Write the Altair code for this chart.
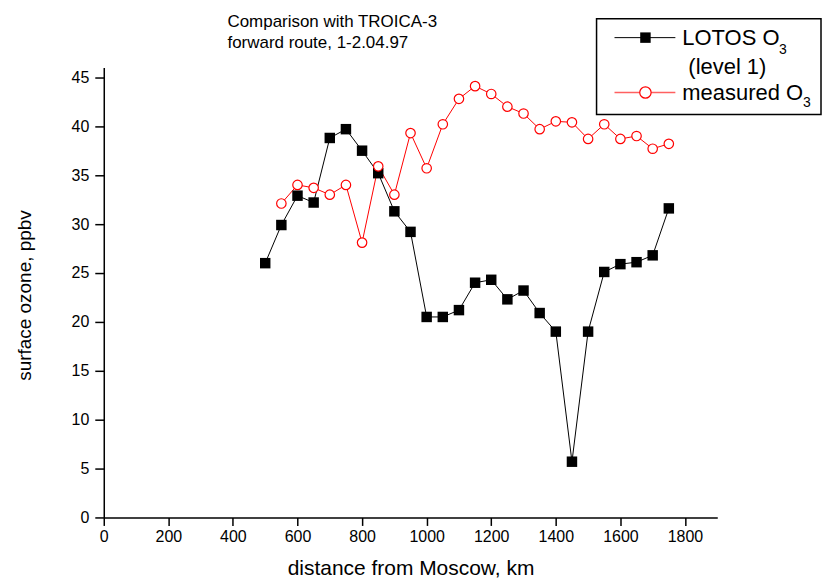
import altair as alt
import pandas as pd

# ---- data ----
lotos_km = [500, 550, 600, 650, 700, 750, 800, 850, 900, 950, 1000, 1050, 1100,
            1150, 1200, 1250, 1300, 1350, 1400, 1450, 1500, 1550, 1600, 1650, 1700, 1750]
lotos_o3 = [26.0, 29.9, 32.9, 32.2, 38.8, 39.7, 37.5, 35.2, 31.3, 29.2, 20.5, 20.5, 21.2,
            24.0, 24.3, 22.3, 23.2, 20.9, 19.0, 5.7, 19.0, 25.1, 25.9, 26.1, 26.8, 31.6]

meas_km = [550, 600, 650, 700, 750, 800, 850, 900, 950, 1000, 1050, 1100, 1150,
           1200, 1250, 1300, 1350, 1400, 1450, 1500, 1550, 1600, 1650, 1700, 1750]
meas_o3 = [32.1, 34.0, 33.7, 33.0, 34.0, 28.1, 35.9, 33.0, 39.3, 35.7, 40.2, 42.8, 44.1,
           43.3, 42.0, 41.3, 39.7, 40.5, 40.4, 38.7, 40.2, 38.7, 39.0, 37.7, 38.2]

x_ticks = list(range(0, 1901, 100))
y_ticks = [i * 2.5 for i in range(19)]

title_lines = ["Comparison with TROICA-3", "forward route, 1-2.04.97"]
x_title = "distance from Moscow, km"
y_title = "surface ozone, ppbv"

FONT = "Liberation Sans"

lotos = pd.DataFrame({"km": lotos_km, "o3": lotos_o3})
meas = pd.DataFrame({"km": meas_km, "o3": meas_o3})

x_axis = alt.Axis(
    values=x_ticks, format="d",
    labelExpr="datum.value % 200 === 0 ? datum.label : ''",
    tickSize={"condition": {"test": "datum.value % 200 === 0", "value": 8}, "value": 5},
    labelPadding=3, labelFontSize=16, labelFont=FONT, labelColor="black",
    labelFlush=False, labelOverlap=False,
    title=x_title, titleFont=FONT, titleFontSize=21, titleFontWeight="normal",
    titleColor="black", titleY=57, titleBaseline="alphabetic",
    grid=False, domainColor="black", domainWidth=1.5, tickColor="black", tickWidth=1.5,
)
y_axis = alt.Axis(
    values=y_ticks, format="d",
    labelExpr="datum.value % 5 === 0 ? datum.label : ''",
    tickSize={"condition": {"test": "datum.value % 5 === 0", "value": 9}, "value": 4},
    labelPadding=6, labelFontSize=16, labelFont=FONT, labelColor="black",
    labelFlush=False, labelOverlap=False,
    title=y_title, titleFont=FONT, titleFontSize=19, titleFontWeight="normal",
    titleColor="black", titleX=-79, titleY=228, titleBaseline="middle", titleAngle=270,
    grid=False, domainColor="black", domainWidth=1.5, tickColor="black", tickWidth=1.5,
)

xs = alt.Scale(domain=[0, 1900], nice=False, zero=False)
ys = alt.Scale(domain=[0, 46], nice=False)

X = alt.X("km:Q", scale=xs, axis=x_axis)
Y = alt.Y("o3:Q", scale=ys, axis=y_axis)

lotos_line = alt.Chart(lotos).mark_line(color="black", strokeWidth=1).encode(x=X, y=Y)
lotos_pts = alt.Chart(lotos).mark_point(shape="square", filled=True, color="black",
                                        size=110, opacity=1).encode(x="km:Q", y="o3:Q")
meas_line = alt.Chart(meas).mark_line(color="#ff0000", strokeWidth=1).encode(x="km:Q", y="o3:Q")
meas_pts = alt.Chart(meas).mark_point(shape="circle", filled=False, fill="white",
                                      stroke="#ff0000", strokeWidth=1.2, size=90,
                                      opacity=1, fillOpacity=1).encode(x="km:Q", y="o3:Q")

one = pd.DataFrame({"d": [0]})

def label(text, x, y, size, align="left"):
    return alt.Chart(pd.DataFrame({"t": [text]})).mark_text(
        font=FONT, fontSize=size, color="black", align=align, baseline="alphabetic"
    ).encode(text="t:N", x=alt.value(x), y=alt.value(y))

title1 = label(title_lines[0], 124, -41, 17)
title2 = label(title_lines[1], 124, -20, 17)

legend_box = alt.Chart(one).mark_rect(fill="white", stroke="black", strokeWidth=1.5).encode(
    x=alt.value(494), x2=alt.value(719), y=alt.value(-49), y2=alt.value(47))
leg_line1 = alt.Chart(one).mark_rule(color="black", strokeWidth=1).encode(
    x=alt.value(512), x2=alt.value(573), y=alt.value(-30))
leg_pt1 = alt.Chart(one).mark_point(shape="square", filled=True, color="black", size=110,
                                    opacity=1).encode(x=alt.value(543), y=alt.value(-30))
leg_line2 = alt.Chart(one).mark_rule(color="#ff6060", strokeWidth=1.5).encode(
    x=alt.value(512), x2=alt.value(573), y=alt.value(25))
leg_pt2 = alt.Chart(one).mark_point(shape="circle", filled=False, fill="white",
                                    stroke="#ff0000", strokeWidth=1.2, size=130, opacity=1,
                                    fillOpacity=1).encode(x=alt.value(543), y=alt.value(25))
leg_t1 = label("LOTOS O", 580, -23, 22)
leg_s1 = label("3", 677, -14, 14)
leg_t2 = label("(level 1)", 586, 6, 22)
leg_t3 = label("measured O", 580, 33, 22)
leg_s3 = label("3", 701, 40, 14)

chart = alt.layer(
    lotos_line, meas_line, lotos_pts, meas_pts,
    title1, title2,
    legend_box, leg_line1, leg_pt1, leg_line2, leg_pt2,
    leg_t1, leg_s1, leg_t2, leg_t3, leg_s3,
).properties(
    width=615, height=451,
    autosize=alt.AutoSizeParams(type="none"),
    padding={"left": 96, "top": 59, "right": 106, "bottom": 60},
    background="white",
).configure_view(stroke=None)

chart.save("out.html", embed_options={"renderer": "svg", "actions": False})
